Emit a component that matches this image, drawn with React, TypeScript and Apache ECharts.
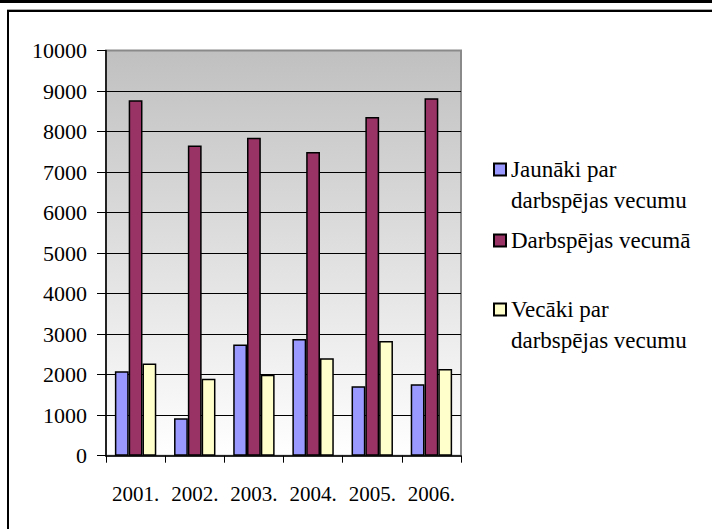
import React, { useEffect, useRef } from "react";
import * as echarts from "echarts";

const categories = ["2001.", "2002.", "2003.", "2004.", "2005.", "2006."];
const seriesNames = ["Jaunāki par\ndarbspējas vecumu", "Darbspējas vecumā", "Vecāki par\ndarbspējas vecumu"];
const younger = [2087, 925, 2745, 2878, 1716, 1766];
const working = [8771, 7658, 7849, 7493, 8358, 8820];
const older = [2275, 1897, 1996, 2408, 2829, 2137];
const seriesValues = [younger, working, older];
const seriesColors = ["#9999ff", "#993366", "#ffffcc"];
const yMin = 0;
const yMax = 10000;
const yInterval = 1000;

const FONT = "Liberation Serif";

export default function App() {
  const ref = useRef<HTMLDivElement>(null);
  useEffect(() => {
    if (!ref.current) return;
    const chart = echarts.init(ref.current, undefined, { renderer: "svg" });
    const legendTops = [123, 225, 263];
    chart.setOption({
      animation: false,
      backgroundColor: "#ffffff",
      textStyle: { fontFamily: FONT },
      grid: {
        left: 106,
        right: 251,
        top: 50.5,
        bottom: 73.3,
        show: true,
        backgroundColor: new echarts.graphic.LinearGradient(0, 0, 0, 1, [
          { offset: 0, color: "#c0c0c0" },
          { offset: 1, color: "#ffffff" },
        ]),
        borderColor: "#8a8a8a",
        borderWidth: 2,
      },
      xAxis: {
        type: "category",
        data: categories,
        axisLine: { lineStyle: { color: "#000", width: 1.5 } },
        axisTick: { show: true, length: 7, interval: 0, lineStyle: { color: "#000", width: 1 } },
        axisLabel: { color: "#000", fontFamily: FONT, fontSize: 21, margin: 28, interval: 0 },
        splitLine: { show: false },
      },
      yAxis: {
        type: "value",
        min: yMin,
        max: yMax,
        interval: yInterval,
        axisLine: { show: true, lineStyle: { color: "#000", width: 1.5 } },
        axisTick: { show: true, length: 9, lineStyle: { color: "#000", width: 1 } },
        axisLabel: {
          color: "#000",
          fontFamily: FONT,
          fontSize: 22,
          margin: 19,
          formatter: (v: number) => String(v),
        },
        splitLine: { show: true, showMinLine: false, showMaxLine: false, lineStyle: { color: "#000", width: 1 } },
      },
      legend: seriesNames.map((name, i) => ({
        data: [name],
        orient: "vertical",
        left: 493,
        top: legendTops[i],
        padding: 0,
        itemWidth: 12,
        itemHeight: 12,
        icon: "rect",
        selectedMode: false,
        formatter: (n: string) => (n.includes("\n") ? " \n" + n : n),
        textStyle: {
          color: "#000",
          fontFamily: FONT,
          fontSize: 23,
          lineHeight: 31,
        },
      })),
      series: seriesNames.map((name, i) => ({
        name,
        type: "bar",
        data: seriesValues[i],
        barGap: "0%",
        barCategoryGap: "30%",
        itemStyle: { color: seriesColors[i], borderColor: "#000", borderWidth: 1.5 },
      })),
      graphic: [
        { type: "rect", shape: { x: 0, y: 0, width: 712, height: 3 }, style: { fill: "#000" }, silent: true },
        { type: "rect", shape: { x: 7, y: 9, width: 705, height: 1 }, style: { fill: "#aaaaaa" }, silent: true },
        { type: "rect", shape: { x: 7, y: 10, width: 705, height: 2 }, style: { fill: "#000" }, silent: true },
        { type: "rect", shape: { x: 7, y: 10, width: 2, height: 519 }, style: { fill: "#000" }, silent: true },
      ],
    });
    return () => chart.dispose();
  }, []);
  return <div ref={ref} style={{ position: "fixed", left: 0, top: 0, width: 712, height: 529 }} />;
}
